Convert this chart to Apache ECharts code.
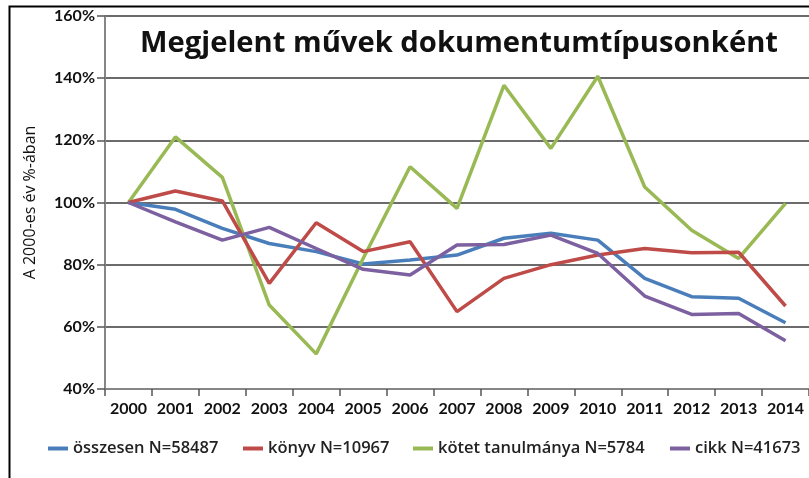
<!DOCTYPE html>
<html>
<head>
<meta charset="utf-8">
<script src="https://cdn.jsdelivr.net/npm/echarts@6/dist/echarts.min.js"></script>
<style>
html,body{margin:0;padding:0;background:#fff;}
#chart{width:809px;height:478px;}
</style>
</head>
<body>
<div id="chart"></div>
<script>
const years = ['2000','2001','2002','2003','2004','2005','2006','2007','2008','2009','2010','2011','2012','2013','2014'];
const osszesen = [100, 97.8, 91.7, 86.8, 84.2, 80.2, 81.5, 83.1, 88.5, 90.1, 87.9, 75.6, 69.7, 69.2, 61.3];
const konyv = [100, 103.7, 100.5, 74.0, 93.5, 84.2, 87.4, 64.9, 75.6, 80.0, 83.1, 85.2, 83.8, 84.0, 66.7];
const kotet = [100, 121.1, 108.1, 67.0, 51.3, 82.0, 111.5, 98.1, 137.7, 117.4, 140.6, 105.0, 91.1, 82.0, 99.7];
const cikk = [100, 93.8, 87.9, 92.0, 85.2, 78.5, 76.7, 86.3, 86.5, 89.5, 83.6, 69.9, 64.0, 64.3, 55.5];
const seriesNames = ['összesen N=58487', 'könyv N=10967', 'kötet tanulmánya N=5784', 'cikk N=41673'];
const colors = ['#4A7EBB', '#BE4B48', '#98B954', '#7D60A0'];
const yTicks = {min: 40, max: 160, interval: 20};

const chart = echarts.init(document.getElementById('chart'), null, {renderer: 'canvas'});
const font = 'Lato, "Open Sans", sans-serif';
const wideFont = '"Open Sans", Lato, sans-serif';
const dataArr = [osszesen, konyv, kotet, cikk];
const legendLeft = [48, 243, 413, 670];

const option = {
  animation: false,
  backgroundColor: '#fff',
  title: {
    text: 'Megjelent művek dokumentumtípusonként',
    left: 135, top: 24,
    textStyle: {fontFamily: wideFont, fontSize: 29.2, fontWeight: 'bold', color: '#111'}
  },
  legend: seriesNames.map((n, i) => ({
    data: [n], left: legendLeft[i], top: 440, padding: 0,
    itemWidth: 20, itemHeight: 4, itemGap: 0,
    icon: 'rect',
    textStyle: {fontFamily: wideFont, fontSize: 16.5, fontWeight: 600, color: '#222'}
  })),
  grid: {left: 105, right: -1, top: 16, bottom: 89, containLabel: false},
  xAxis: {
    type: 'category', data: years, boundaryGap: true,
    axisLine: {lineStyle: {color: '#868686', width: 2}},
    axisTick: {show: true, length: 7, lineStyle: {color: '#555', width: 1.5}},
    axisLabel: {fontFamily: font, fontSize: 16, fontWeight: 'bold', color: '#111', margin: 12, interval: 0},
    splitLine: {show: false}
  },
  yAxis: {
    type: 'value', min: yTicks.min, max: yTicks.max, interval: yTicks.interval,
    name: 'A 2000-es év %-ában', nameLocation: 'middle', nameGap: 67, nameRotate: 90,
    nameTextStyle: {fontFamily: wideFont, fontSize: 16, color: '#111'},
    axisLine: {show: true, lineStyle: {color: '#868686', width: 2}},
    axisTick: {show: true, length: 8, lineStyle: {color: '#555', width: 1.5}},
    axisLabel: {fontFamily: font, fontSize: 16, fontWeight: 'bold', color: '#111', margin: 10, formatter: '{value}%'},
    splitLine: {show: true, lineStyle: {color: '#3a3a3a', width: 1.5}}
  },
  graphic: [{
    type: 'rect', left: 7, top: 4, z: 100, silent: true,
    shape: {width: 900, height: 600},
    style: {fill: 'none', stroke: '#000', lineWidth: 2}
  }],
  series: seriesNames.map((n, i) => ({
    name: n, type: 'line', data: dataArr[i],
    showSymbol: false, symbol: 'none',
    lineStyle: {color: colors[i], width: 3.5},
    itemStyle: {color: colors[i]},
    z: 2 + (i === 2 ? 0 : i)
  }))
};
chart.setOption(option);
</script>
</body>
</html>
